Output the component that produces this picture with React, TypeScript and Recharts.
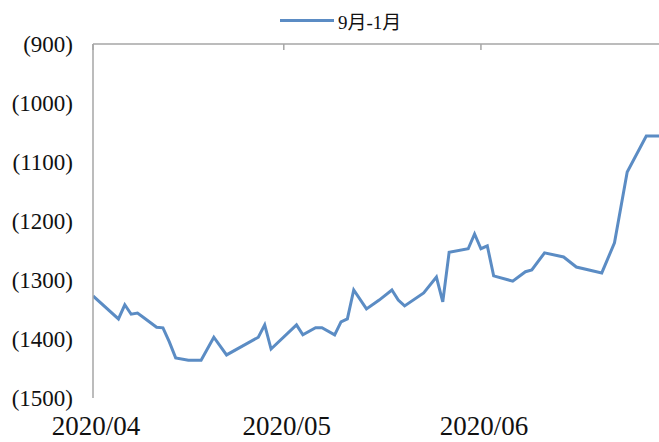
import React from "react";
import { LineChart, Line, XAxis, YAxis } from "recharts";

// 9-1 spread
const dates = [
    "2020-04-01", "2020-04-05", "2020-04-06", "2020-04-07", "2020-04-08", "2020-04-09",
    "2020-04-11", "2020-04-12", "2020-04-13", "2020-04-14", "2020-04-16", "2020-04-18",
    "2020-04-20", "2020-04-22", "2020-04-27", "2020-04-28", "2020-04-29", "2020-05-03",
    "2020-05-04", "2020-05-06", "2020-05-07", "2020-05-09", "2020-05-10", "2020-05-11",
    "2020-05-12", "2020-05-14", "2020-05-16", "2020-05-18", "2020-05-19", "2020-05-20",
    "2020-05-23", "2020-05-25", "2020-05-26", "2020-05-27", "2020-05-30", "2020-05-31",
    "2020-06-01", "2020-06-02", "2020-06-03", "2020-06-06", "2020-06-08", "2020-06-09",
    "2020-06-11", "2020-06-14", "2020-06-16", "2020-06-20", "2020-06-22", "2020-06-24",
    "2020-06-27", "2020-06-29",
];
const spread = [
    -1327, -1366, -1342, -1358, -1356, -1364,
    -1380, -1381, -1405, -1432, -1436, -1436,
    -1397, -1427, -1397, -1376, -1417, -1376,
    -1393, -1381, -1381, -1393, -1371, -1366,
    -1317, -1349, -1334, -1317, -1334, -1344,
    -1322, -1295, -1337, -1253, -1247, -1222,
    -1247, -1242, -1293, -1302, -1286, -1283,
    -1254, -1261, -1278, -1288, -1237, -1117,
    -1056, -1056,
];
const seriesName = "9月-1月";
const monthTicks = ["2020-04-01", "2020-05-01", "2020-06-01"];
const yTicks = [-1500, -1400, -1300, -1200, -1100, -1000, -900];

const START = Date.UTC(2020, 3, 1);
const DAY = 1000 * 60 * 60 * 24;
const toDay = (s: string) => {
    const [y, m, d] = s.split("-").map(Number);
    return (Date.UTC(y, m - 1, d) - START) / DAY;
};

const data = dates.map((d, i) => ({ day: toDay(d), value: spread[i] }));

const LINE_COLOR = "#5b8cc4";
const AXIS_COLOR = "#a6a6a6";
const SERIF = "'Liberation Serif', 'Times New Roman', serif";

const formatMonth = (day: number) => {
    const d = new Date(START + day * DAY);
    return `${d.getUTCFullYear()}/${String(d.getUTCMonth() + 1).padStart(2, "0")}`;
};

const MonthTick = (props: any) => {
    const { x, y, payload } = props;
    return (
        <text x={x + 3} y={y + 37} textAnchor="middle" fontFamily={SERIF} fontSize={27} fill="#111">
            {formatMonth(payload.value)}
        </text>
    );
};

export default function App() {
    return (
        <div style={{ position: "absolute", left: 0, top: 0, width: 659, height: 442, background: "#fff" }}>
            <div style={{ position: "absolute", left: 280, top: 7, display: "flex", alignItems: "center", zIndex: 1 }}>
                <div style={{ width: 54, height: 3, background: LINE_COLOR, marginRight: 4 }}/>
                <span style={{ fontFamily: `${SERIF}, 'Noto Sans CJK SC'`, fontSize: 19, color: "#111" }}>
                    {seriesName}
                </span>
            </div>
            <LineChart width={659} height={442} data={data} margin={{ top: 44, right: 0, left: 0, bottom: 0 }}>
                <XAxis xAxisId="top" orientation="top" dataKey="day" type="number" domain={[0, 89]}
                       ticks={monthTicks.map(toDay)} tickFormatter={() => ""} mirror height={1}
                       tickSize={6} stroke={AXIS_COLOR} strokeWidth={1.5} allowDataOverflow/>
                <XAxis dataKey="day" type="number" domain={[0, 89]} ticks={monthTicks.map(toDay)}
                       interval={0} height={44} axisLine={false} tickLine={false}
                       tickSize={0} tickMargin={0} allowDataOverflow tick={<MonthTick/>}/>
                <YAxis type="number" domain={[-1500, -900]} ticks={yTicks} interval={0} width={93}
                       tickFormatter={(v: number) => `(${Math.abs(v)})`} tickLine={false} tickSize={0}
                       tickMargin={20} stroke={AXIS_COLOR} strokeWidth={1.5}
                       tick={{ fontFamily: SERIF, fontSize: 23, fill: "#111" }}/>
                <Line type="linear" dataKey="value" name={seriesName} stroke={LINE_COLOR} strokeWidth={3}
                      dot={false} isAnimationActive={false}/>
            </LineChart>
        </div>
    );
}
